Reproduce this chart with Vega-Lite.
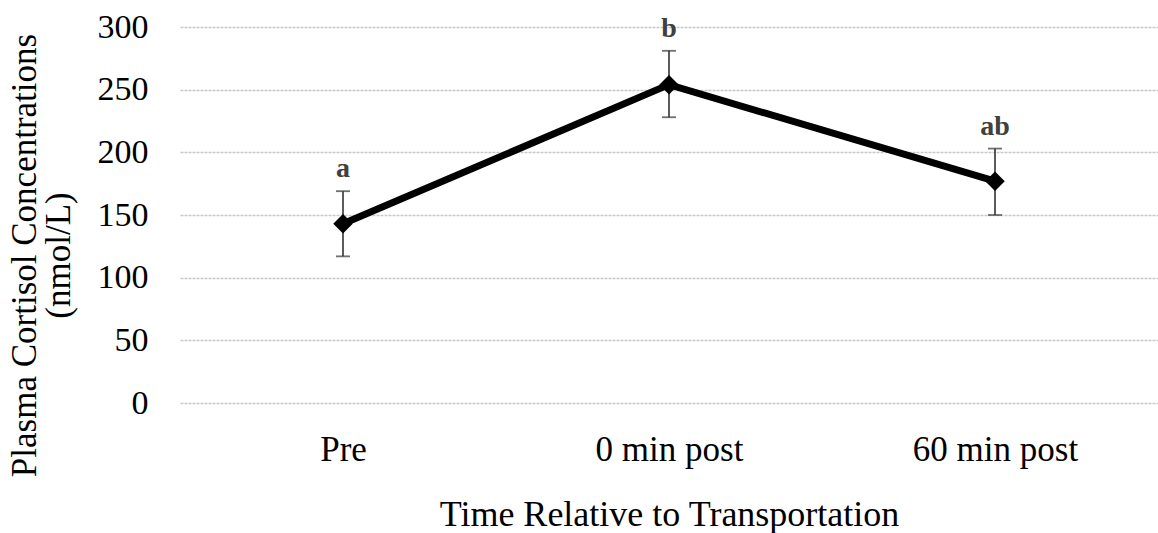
{
  "$schema": "https://vega.github.io/schema/vega-lite/v6.json",
  "autosize": "none",
  "width": 978,
  "height": 376,
  "padding": {"left": 180, "top": 27, "right": 0, "bottom": 130},
  "background": "white",
  "config": {
    "view": {"stroke": null},
    "font": "Liberation Serif"
  },
  "data": {
    "values": [
      {"time": "Pre", "mean": 143, "low": 117, "high": 169, "letter": "a"},
      {"time": "0 min post", "mean": 254, "low": 228, "high": 281, "letter": "b"},
      {"time": "60 min post", "mean": 177, "low": 150, "high": 203, "letter": "ab"}
    ]
  },
  "encoding": {
    "x": {
      "field": "time",
      "type": "nominal",
      "sort": null,
      "scale": {"type": "point", "padding": 0.5},
      "axis": {
        "title": "Time Relative to Transportation",
        "labelAngle": 0,
        "labelFont": "Liberation Serif",
        "labelFontSize": 35,
        "labelColor": "#000",
        "labelBaseline": "alphabetic",
        "labelPadding": 57,
        "ticks": false,
        "domain": false,
        "grid": false,
        "titleFont": "Liberation Serif",
        "titleFontSize": 36,
        "titleFontWeight": "normal",
        "titleColor": "#000",
        "titleBaseline": "alphabetic",
        "titleY": 122
      }
    }
  },
  "layer": [
    {
      "mark": {"type": "rule", "stroke": "#333333", "strokeWidth": 1.6},
      "encoding": {
        "y": {
          "field": "low",
          "type": "quantitative",
          "scale": {"domain": [0, 300]},
          "axis": {
            "values": [0, 50, 100, 150, 200, 250, 300],
            "title": ["Plasma Cortisol Concentrations", "(nmol/L)"],
            "titleFont": "Liberation Serif",
            "titleFontSize": 35,
            "titleFontWeight": "normal",
            "titleColor": "#000",
            "titleLineHeight": 34,
            "titleBaseline": "top",
            "titleX": -173,
            "titleY": 228,
            "labelFont": "Liberation Serif",
            "labelFontSize": 34,
            "labelColor": "#000",
            "labelPadding": 32,
            "ticks": false,
            "domain": false,
            "gridColor": "#c8c8c8",
            "gridDash": [3, 1],
            "gridWidth": 1.5
          }
        },
        "y2": {"field": "high"}
      }
    },
    {
      "mark": {"type": "tick", "color": "#333333", "size": 14, "thickness": 1.8, "orient": "horizontal"},
      "encoding": {"y": {"field": "low", "type": "quantitative"}}
    },
    {
      "mark": {"type": "tick", "color": "#333333", "size": 14, "thickness": 1.8, "orient": "horizontal"},
      "encoding": {"y": {"field": "high", "type": "quantitative"}}
    },
    {
      "mark": {"type": "line", "color": "#000", "strokeWidth": 7},
      "encoding": {"y": {"field": "mean", "type": "quantitative"}}
    },
    {
      "mark": {"type": "point", "shape": "diamond", "filled": true, "color": "#000", "size": 380, "opacity": 1},
      "encoding": {"y": {"field": "mean", "type": "quantitative"}}
    },
    {
      "mark": {"type": "text", "font": "Liberation Serif", "fontSize": 28, "fontWeight": "bold", "color": "#404040", "baseline": "alphabetic", "dy": -14},
      "encoding": {
        "y": {"field": "high", "type": "quantitative"},
        "text": {"field": "letter"}
      }
    }
  ]
}
